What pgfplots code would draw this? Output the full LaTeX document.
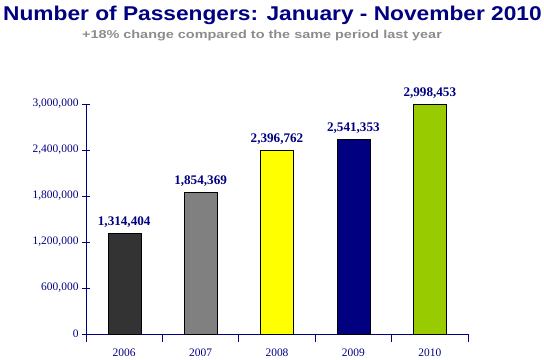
\documentclass[border=0pt]{standalone}
\usepackage{pgfplots}
\pgfplotsset{compat=1.18}
\usepackage{fontspec}
\setmainfont{Liberation Serif}
\newfontfamily\arialfont{Liberation Sans}
\definecolor{navy}{HTML}{000080}
\definecolor{cA}{HTML}{333333}
\definecolor{cB}{HTML}{808080}
\definecolor{cC}{HTML}{FFFF00}
\definecolor{cD}{HTML}{000080}
\definecolor{cE}{HTML}{99CC00}
\definecolor{subgray}{HTML}{8C8C8C}
\begin{document}
\begin{tikzpicture}
\useasboundingbox (0,0) rectangle (544bp,360bp);
\node[anchor=base, inner sep=0pt, font=\arialfont\bfseries\fontsize{20}{22}\selectfont, text=navy] at (272.5bp,339bp) {\scalebox{1.14}[1]{Number of Passengers: January - November 2010}};
\node[anchor=base, inner sep=0pt, font=\arialfont\bfseries\fontsize{11.5}{13}\selectfont, text=subgray] at (262bp,321bp) {\scalebox{1.26}[1]{+18\% change compared to the same period last year}};
\begin{axis}[
  at={(86bp,26bp)}, anchor=south west,
  scale only axis, width=382bp, height=230bp,
  xmin=-0.5, xmax=4.5, ymin=0, ymax=3000000,
  axis lines*=left,
  axis line style={navy, line width=0.8pt},
  every tick/.style={navy, line width=0.8pt},
  tick align=center,
  major tick length=8bp, minor tick length=8bp,
  xtick={0,1,2,3,4},
  xticklabels={2006,2007,2008,2009,2010},
  major x tick style={draw=none},
  minor xtick={-0.5,0.5,1.5,2.5,3.5,4.5},
  ytick={0,600000,1200000,1800000,2400000,3000000},
  scaled y ticks=false,
  /pgf/number format/.cd, fixed, precision=0, 1000 sep={,}, assume math mode=true,
  /pgfplots/.cd,
  tick label style={font=\fontsize{11.5}{13}\selectfont, text=navy},
  xticklabel style={yshift=-3bp},
  ybar, bar width=33bp, bar shift=0pt,
  nodes near coords,
  every node near coord/.append style={font=\bfseries\fontsize{13.2}{15}\selectfont, text=navy, yshift=2bp},
  clip=false,
]
\addplot[fill=cA, draw=black] coordinates {(0,1314404)};
\addplot[fill=cB, draw=black] coordinates {(1,1854369)};
\addplot[fill=cC, draw=black] coordinates {(2,2396762)};
\addplot[fill=cD, draw=black] coordinates {(3,2541353)};
\addplot[fill=cE, draw=black] coordinates {(4,2998453)};
\end{axis}
\end{tikzpicture}
\end{document}
